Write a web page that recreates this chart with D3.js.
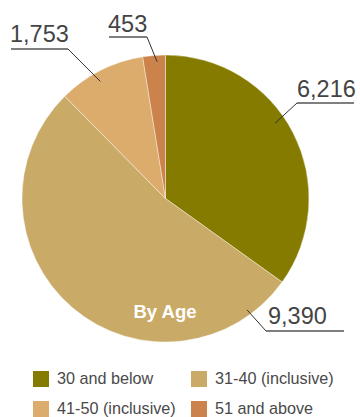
<!DOCTYPE html>
<html>
<head>
<meta charset="utf-8">
<script src="https://cdn.jsdelivr.net/npm/d3@7"></script>
<style>
  html, body { margin: 0; padding: 0; background: #fff; }
  svg { display: block; }
</style>
</head>
<body>
<svg id="chart" width="360" height="417"></svg>
<script>
// ---- data ----
const categories = ["30 and below", "31-40 (inclusive)", "41-50 (inclusive)", "51 and above"];
const values = [6216, 9390, 1753, 453];
const colors = ["#857B00", "#C9AA66", "#DBAC6C", "#CB834B"];
const centerLabel = "By Age";

// ---- layout (label leader geometry: anchor angle in degrees, anchor radius, elbow, underline end, text position) ----
const labelLayout = [
  { angle: 55.5,  rad: 133, elbow: [297, 103], end: 354, tx: 297, ty: 97 },
  { angle: 143.8, rad: 138, elbow: [266, 331], end: 344, tx: 268, ty: 324 },
  { angle: 330.9, rad: 134, elbow: [68, 49],   end: 11,  tx: 10,  ty: 42 },
  { angle: 356.5, rad: 137, elbow: [147, 37],  end: 109, tx: 108, ty: 32 }
];

const cx = 165.5, cy = 198.5, R = 143.5;
const svg = d3.select("#chart");
const g = svg.append("g").attr("transform", `translate(${cx},${cy})`);

const pie = d3.pie().sort(null).value(d => d)(values);
const arc = d3.arc().innerRadius(0).outerRadius(R);

g.selectAll("path.slice")
  .data(pie)
  .join("path")
  .attr("class", "slice")
  .attr("d", arc)
  .attr("fill", (d, i) => colors[i])
  .attr("stroke", "#fff")
  .attr("stroke-width", 0.4);

// center-ish label
g.append("text")
  .attr("x", -0.5)
  .attr("y", 119.5)
  .attr("text-anchor", "middle")
  .attr("font-family", "Liberation Sans, Arial, sans-serif")
  .attr("font-weight", "bold")
  .attr("font-size", 18.5)
  .attr("fill", "#fff")
  .text(centerLabel);

// leader lines and value labels
const fmt = d3.format(",");
labelLayout.forEach((L, i) => {
  const a = L.angle * Math.PI / 180;
  const ax = cx + L.rad * Math.sin(a);
  const ay = cy - L.rad * Math.cos(a);
  svg.append("line")
    .attr("x1", ax).attr("y1", ay)
    .attr("x2", L.elbow[0]).attr("y2", L.elbow[1])
    .attr("stroke", "#333").attr("stroke-width", 1);
  svg.append("line")
    .attr("x1", L.elbow[0]).attr("y1", L.elbow[1])
    .attr("x2", L.end).attr("y2", L.elbow[1])
    .attr("stroke", "#555").attr("stroke-width", 1.4);
  svg.append("text")
    .attr("x", L.tx).attr("y", L.ty)
    .attr("font-family", "Liberation Sans, Arial, sans-serif")
    .attr("font-size", 23.5)
    .attr("fill", "#444")
    .text(fmt(values[i]));
});

// legend
const legendPos = [[33, 371], [191, 371], [33, 401], [191, 401]];
const lg = svg.append("g");
categories.forEach((c, i) => {
  const [lx, ly] = legendPos[i];
  lg.append("rect").attr("x", lx).attr("y", ly).attr("width", 16).attr("height", 16).attr("fill", colors[i]);
  lg.append("text")
    .attr("x", lx + 24).attr("y", ly + 13)
    .attr("font-family", "Liberation Sans, Arial, sans-serif")
    .attr("font-size", 16.2)
    .attr("fill", "#4a4a4a")
    .text(c);
});
</script>
</body>
</html>
